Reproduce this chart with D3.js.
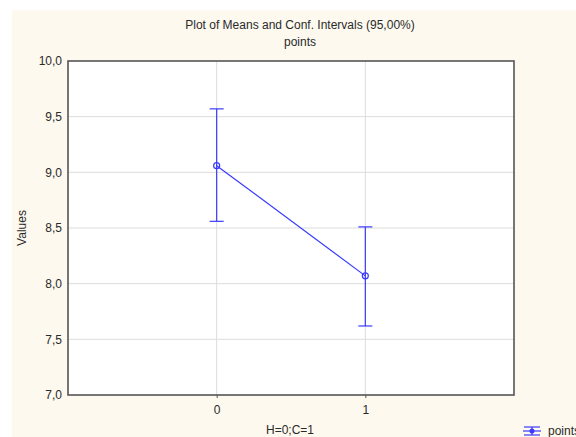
<!DOCTYPE html>
<html>
<head>
<meta charset="utf-8">
<script src="https://d3js.org/d3.v7.min.js"></script>
<style>
body { margin: 0; background: #fff; }
text { font-family: "Liberation Sans", Arial, sans-serif; fill: #2a2a2a; }
</style>
</head>
<body>
<div id="chart"></div>
<script>
// data
var groups = ["0", "1"];
var groupPos = [0, 1];
var means = [9.06, 8.07];
var lower = [8.56, 7.62];
var upper = [9.57, 8.51];
var yTicks = [7.0, 7.5, 8.0, 8.5, 9.0, 9.5, 10.0];

var svgWidth = 576;
var svgHeight = 437;

var margin = {
    top: 61,
    right: 62,
    bottom: 42,
    left: 68
};
var width = svgWidth - margin.left - margin.right;
var height = svgHeight - margin.top - margin.bottom;

var svg = d3.select("#chart")
    .append("svg")
    .attr("width", svgWidth)
    .attr("height", svgHeight);

// cream panel
svg.append("rect")
    .attr("x", 12)
    .attr("y", 10)
    .attr("width", svgWidth - 12)
    .attr("height", svgHeight - 10)
    .attr("fill", "#fdf9ef");

var chartGroup = svg.append("g")
    .attr("transform", `translate(${margin.left}, ${margin.top})`);

var xScale = d3.scaleLinear()
    .domain([-1, 2])
    .range([0, width]);

var yScale = d3.scaleLinear()
    .domain([7, 10])
    .range([height, 0]);

chartGroup.append("rect")
    .attr("width", width)
    .attr("height", height)
    .attr("fill", "#fff");

// grid
chartGroup.selectAll(".hgrid")
    .data(yTicks.slice(1, -1))
    .enter()
    .append("line")
    .attr("x1", 0)
    .attr("x2", width)
    .attr("y1", d => yScale(d))
    .attr("y2", d => yScale(d))
    .attr("stroke", "#dcdcdc")
    .attr("stroke-width", 1);

chartGroup.selectAll(".vgrid")
    .data(groupPos)
    .enter()
    .append("line")
    .attr("x1", d => xScale(d))
    .attr("x2", d => xScale(d))
    .attr("y1", 0)
    .attr("y2", height)
    .attr("stroke", "#dcdcdc")
    .attr("stroke-width", 1);

// axes
var leftAxis = d3.axisLeft(yScale)
    .tickValues(yTicks)
    .tickSize(0)
    .tickPadding(6)
    .tickFormat(d => d3.format(".1f")(d).replace(".", ","));

var bottomAxis = d3.axisBottom(xScale)
    .tickValues(groupPos)
    .tickSize(3)
    .tickPadding(7)
    .tickFormat((d, i) => groups[i]);

var yAxis = chartGroup.append("g").call(leftAxis);
var xAxis = chartGroup.append("g")
    .attr("transform", `translate(0, ${height})`)
    .call(bottomAxis);

yAxis.select(".domain").remove();
xAxis.select(".domain").remove();
xAxis.selectAll(".tick line").attr("stroke", "#555");
[yAxis, xAxis].forEach(function(a) {
    a.selectAll("text")
        .style("font-size", "12px")
        .style("font-family", "Liberation Sans, Arial, sans-serif")
        .attr("fill", "#2a2a2a");
});

// frame
chartGroup.append("rect")
    .attr("width", width)
    .attr("height", height)
    .attr("fill", "none")
    .attr("stroke", "#555")
    .attr("stroke-width", 1.6);

// error bars
var blue = "#3a3aff";
var capW = 7;
var bars = chartGroup.selectAll(".err")
    .data(groupPos)
    .enter()
    .append("g");

bars.append("line")
    .attr("x1", d => xScale(d))
    .attr("x2", d => xScale(d))
    .attr("y1", (d, i) => yScale(upper[i]))
    .attr("y2", (d, i) => yScale(lower[i]))
    .attr("stroke", blue)
    .attr("stroke-width", 1.2);

bars.append("line")
    .attr("x1", d => xScale(d) - capW)
    .attr("x2", d => xScale(d) + capW)
    .attr("y1", (d, i) => yScale(upper[i]))
    .attr("y2", (d, i) => yScale(upper[i]))
    .attr("stroke", blue)
    .attr("stroke-width", 1.2);

bars.append("line")
    .attr("x1", d => xScale(d) - capW)
    .attr("x2", d => xScale(d) + capW)
    .attr("y1", (d, i) => yScale(lower[i]))
    .attr("y2", (d, i) => yScale(lower[i]))
    .attr("stroke", blue)
    .attr("stroke-width", 1.2);

// mean line
var line = d3.line()
    .x((d, i) => xScale(groupPos[i]))
    .y(d => yScale(d));

chartGroup.append("path")
    .datum(means)
    .attr("d", line)
    .attr("fill", "none")
    .attr("stroke", blue)
    .attr("stroke-width", 1.2);

chartGroup.selectAll(".pt")
    .data(means)
    .enter()
    .append("circle")
    .attr("cx", (d, i) => xScale(groupPos[i]))
    .attr("cy", d => yScale(d))
    .attr("r", 3)
    .attr("fill", "none")
    .attr("stroke", blue)
    .attr("stroke-width", 1.2);

// titles
svg.append("text")
    .attr("x", 300)
    .attr("y", 29)
    .attr("text-anchor", "middle")
    .style("font-size", "12px")
    .text("Plot of Means and Conf. Intervals (95,00%)");

svg.append("text")
    .attr("x", 300)
    .attr("y", 46)
    .attr("text-anchor", "middle")
    .style("font-size", "12px")
    .text("points");

svg.append("text")
    .attr("x", 290)
    .attr("y", 434)
    .attr("text-anchor", "middle")
    .style("font-size", "12px")
    .text("H=0;C=1");

svg.append("text")
    .attr("transform", `translate(26, ${margin.top + height / 2}) rotate(-90)`)
    .attr("text-anchor", "middle")
    .style("font-size", "12px")
    .text("Values");

// legend
var legend = svg.append("g").attr("transform", "translate(532, 431)");
legend.append("line").attr("x1", -9).attr("x2", 9).attr("y1", 0).attr("y2", 0)
    .attr("stroke", blue).attr("stroke-width", 1.2);
legend.append("line").attr("x1", -8).attr("x2", 8).attr("y1", -4).attr("y2", -4)
    .attr("stroke", blue).attr("stroke-width", 1.2);
legend.append("line").attr("x1", -8).attr("x2", 8).attr("y1", 4).attr("y2", 4)
    .attr("stroke", blue).attr("stroke-width", 1.2);
legend.append("line").attr("x1", 0).attr("x2", 0).attr("y1", -4).attr("y2", 4)
    .attr("stroke", blue).attr("stroke-width", 1.2);
legend.append("circle").attr("r", 2.5).attr("fill", blue);
legend.append("text")
    .attr("x", 16)
    .attr("y", 4)
    .style("font-size", "12px")
    .text("points");
</script>
</body>
</html>
